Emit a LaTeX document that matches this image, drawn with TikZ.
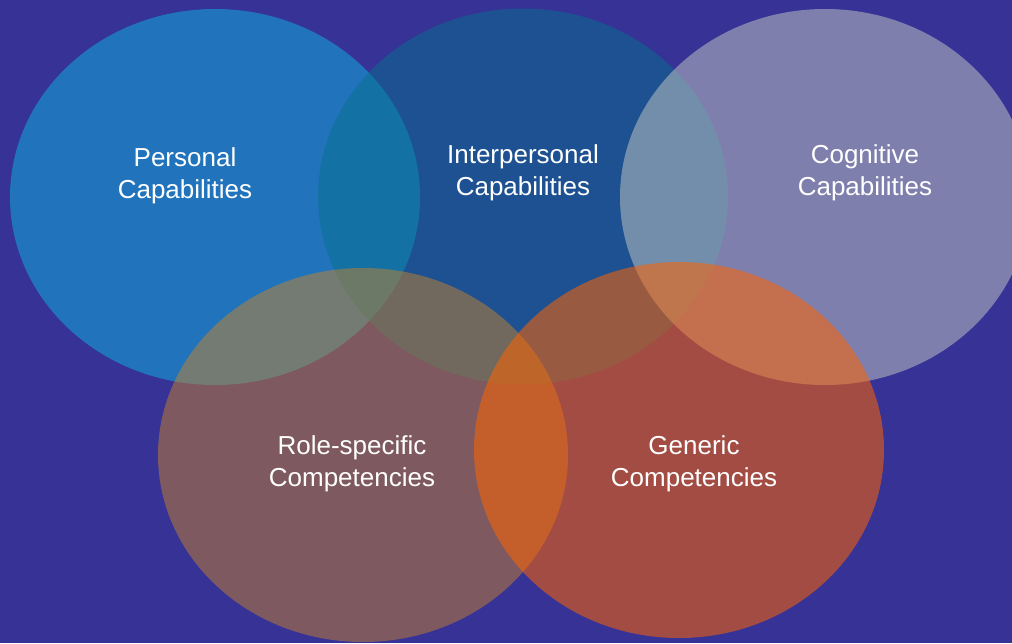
\documentclass[tikz,border=0pt]{standalone}
\usepackage{fontspec}
\setmainfont{Liberation Sans}
\definecolor{bgc}{RGB}{54,50,150}
\definecolor{cpers}{RGB}{14,182,226}
\definecolor{cinter}{RGB}{8,112,142}
\definecolor{ccog}{RGB}{200,204,198}
\definecolor{crole}{RGB}{198,130,44}
\definecolor{cgen}{RGB}{254,99,0}
\tikzset{
  blob/.style={fill opacity=0.5},
  lbl/.style={text=white, align=center, font=\fontsize{26}{32}\selectfont, inner sep=0pt}
}
\begin{document}
\begin{tikzpicture}[x=1pt,y=-1pt]
\useasboundingbox (0,0) rectangle (1012,643);
\fill[bgc] (0,0) rectangle (1012,643);
\begin{scope}
\clip (0,0) rectangle (1012,643);
\fill[cpers,blob] (215,197) ellipse [x radius=205, y radius=188];
\fill[cinter,blob] (523,196.5) ellipse [x radius=205, y radius=188];
\fill[ccog,blob] (825,197) ellipse [x radius=205, y radius=188];
\fill[crole,blob] (363,455) ellipse [x radius=205, y radius=187];
\fill[cgen,fill opacity=0.55] (679,450) ellipse [x radius=205, y radius=188];
\end{scope}
\node[lbl] (pers) at (185,176) {Personal\\Capabilities};
\node[lbl] (inter) at (523,173) {Interpersonal\\Capabilities};
\node[lbl] (cog) at (865,173) {Cognitive\\Capabilities};
\node[lbl] (role) at (352,464) {Role-specific\\Competencies};
\node[lbl] (gen) at (694,464) {Generic\\Competencies};
\end{tikzpicture}
\end{document}
